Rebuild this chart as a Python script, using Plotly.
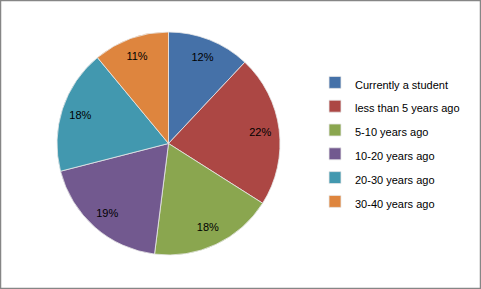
import plotly.graph_objects as go

categories = ["Currently a student", "less than 5 years ago", "5-10 years ago",
              "10-20 years ago", "20-30 years ago", "30-40 years ago"]
values = [12, 22, 18, 19, 18, 11]
colors = ["#4571A8", "#AC4744", "#8AA64F", "#72598F", "#4298AF", "#DE853E"]

W, H = 481, 289
legend_labels = [f"<span style='font-size:11px'>{c}</span>" for c in categories]

pie_dom = dict(x=[57 / W, 280 / W], y=[1 - 255 / H, 1 - 32 / H])

fig = go.Figure()
# Full pie (colours)
fig.add_trace(go.Pie(
    labels=legend_labels, values=values, sort=False, direction="clockwise",
    rotation=0, marker=dict(colors=colors, line=dict(color="#e8e8e8", width=0.8)),
    textinfo="none", domain=pie_dom, showlegend=True, hoverinfo="label+percent",
))
# Ring overlay to place percentage labels near the rim
fig.add_trace(go.Pie(
    labels=legend_labels, values=values, sort=False, direction="clockwise",
    rotation=0, hole=0.66,
    marker=dict(colors=["rgba(0,0,0,0)"] * len(values), line=dict(width=0)),
    textinfo="percent", textposition="inside", insidetextorientation="horizontal",
    textfont=dict(family="Liberation Sans", size=11, color="#000000"),
    domain=pie_dom, showlegend=False, hoverinfo="skip",
))

fig.update_layout(
    width=W, height=H, margin=dict(l=0, r=0, t=0, b=0),
    paper_bgcolor="#ffffff", plot_bgcolor="#ffffff",
    font=dict(family="Liberation Sans", color="#000000"),
    legend=dict(x=315 / W, xanchor="left", y=1 - 142 / H, yanchor="middle",
                font=dict(size=16, family="Liberation Sans", color="#000000"),
                bgcolor="rgba(0,0,0,0)"),
    shapes=[dict(type="rect", xref="paper", yref="paper", x0=0, y0=0, x1=1, y1=1,
                 line=dict(color="#868686", width=2.5))],
)

fig.write_html("out.html")
